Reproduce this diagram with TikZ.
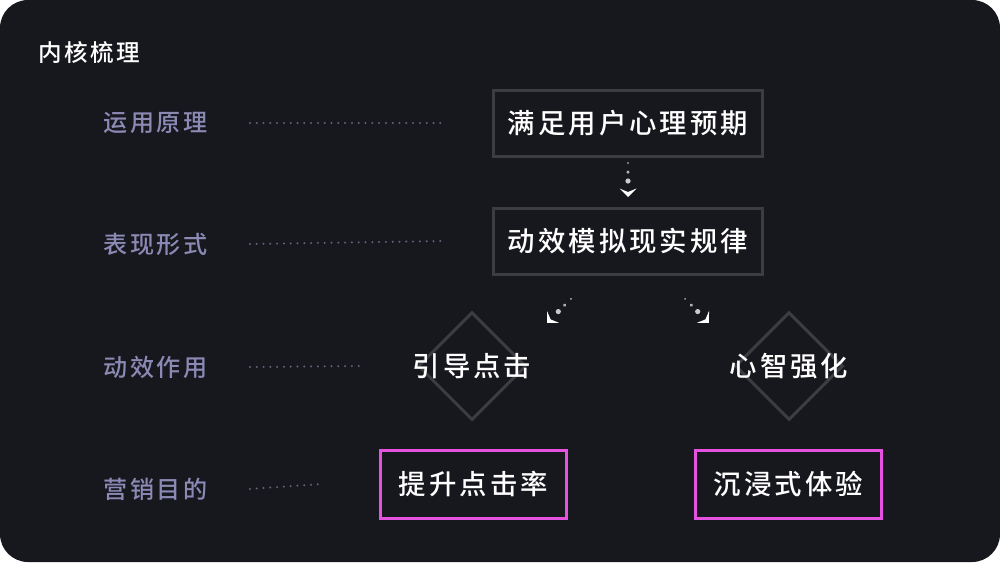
\documentclass[tikz,border=0pt]{standalone}
\usepackage{fontspec}
\setmainfont{Noto Sans CJK SC}[LetterSpace=11]
\newfontfamily\zhongzi{Noto Sans CJK SC}[UprightFont=* Medium, LetterSpace=11]
\usetikzlibrary{arrows.meta,positioning,shapes.geometric,decorations.markings}
\definecolor{diseShen}{HTML}{17171E}
\definecolor{kuangHui}{HTML}{3C3C43}
\definecolor{ziZi}{HTML}{8C89B4}
\definecolor{dianHui}{HTML}{62627A}
\definecolor{dianBai}{HTML}{C9C9CE}
\definecolor{fenHong}{HTML}{E552E0}

\begin{document}
\begin{tikzpicture}[x=0.02cm, y=-0.02cm,
    kuang/.style={rectangle, draw=kuangHui, line width=0.06cm, fill=diseShen,
                  minimum width=5.4cm, minimum height=1.32cm, inner sep=0pt,
                  text=white, font=\zhongzi\fontsize{15.6}{18}\selectfont},
    mubiao/.style={kuang, draw=fenHong, minimum width=3.74cm, minimum height=1.36cm},
    lingxing/.style={diamond, draw=kuangHui, line width=0.06cm,
                     minimum width=2.16cm, minimum height=2.16cm, inner sep=0pt},
    xiaozi/.style={inner sep=0pt, text=white, font=\zhongzi\fontsize{15.6}{18}\selectfont},
    biaoqian/.style={anchor=west, inner sep=0pt, text=ziZi,
                     font=\zhongzi\fontsize{13.7}{16}\selectfont},
    xuxian/.style={draw=dianHui, line width=0.045cm, line cap=round,
                   dash pattern=on 0pt off 0.136cm},
    jiantou/.style={decoration={markings,
        mark=at position -0.68cm with {\fill[dianBai!70!diseShen] (0,0) circle (0.022cm);},
        mark=at position -0.5cm with {\fill[dianBai!85!diseShen] (0,0) circle (0.035cm);},
        mark=at position -0.32cm with {\fill[dianBai] (0,0) circle (0.052cm);},
        mark=at position 1 with {\fill[white] (0,0) -- (-0.17cm,0.17cm) -- (-0.1cm,0)
                                   -- (-0.17cm,-0.17cm) -- cycle;}},
      postaction={decorate}}
  ]
  \useasboundingbox (0,0) rectangle (1000,562);
  % 底色
  \fill[white] (0,0) rectangle (1000,562);
  \fill[diseShen, rounded corners=0.56cm] (0,0) rectangle (1000,562);

  % 标题
  \node[anchor=west, inner sep=0pt, text=white, font=\zhongzi\fontsize{13.4}{16}\selectfont]
    (biaoti) at (38,52) {内核梳理};

  % 左侧标签
  \node[biaoqian] (yuanli) at (103,123) {运用原理};
  \node[biaoqian] (xingshi) at (103,244) {表现形式};
  \node[biaoqian] (zuoyong) at (103,367) {动效作用};
  \node[biaoqian] (mudi) at (103,489) {营销目的};

  % 主干
  \node[kuang] (qiwang) at (628,123) {满足用户心理预期};
  \node[kuang] (guilv) at (628,241) {动效模拟现实规律};

  % 动效作用
  \node[lingxing, label={[xiaozi]center:引导点击}] (yindao) at (472,366) {};
  \node[lingxing, label={[xiaozi]center:心智强化}] (xinzhi) at (789,366) {};

  % 营销目的
  \node[mubiao] (dianji) at (473.5,484) {提升点击率};
  \node[mubiao] (chenjin) at (788.5,484) {沉浸式体验};

  % 虚线
  \draw[xuxian] ([xshift=0.84cm]yuanli.east) -- ([xshift=-0.96cm]qiwang.west);
  \draw[xuxian] ([xshift=0.84cm]xingshi.east) -- ([xshift=-0.96cm]guilv.west);
  \draw[xuxian] ([xshift=0.84cm]zuoyong.east) -- ([xshift=-1.04cm]yindao.west);
  \draw[xuxian] ([xshift=0.84cm]mudi.east) -- ([xshift=-1.14cm]dianji.west);

  % 箭头
  \coordinate (jianA) at (628,197);
  \coordinate (jianL) at (547,323);
  \coordinate (jianR) at (709,323);
  \path[jiantou] (qiwang.south) -- (jianA);
  \path[jiantou] ([xshift=-0.68cm]guilv.south) -- (jianL);
  \path[jiantou] ([xshift=0.68cm]guilv.south) -- (jianR);
\end{tikzpicture}
\end{document}
